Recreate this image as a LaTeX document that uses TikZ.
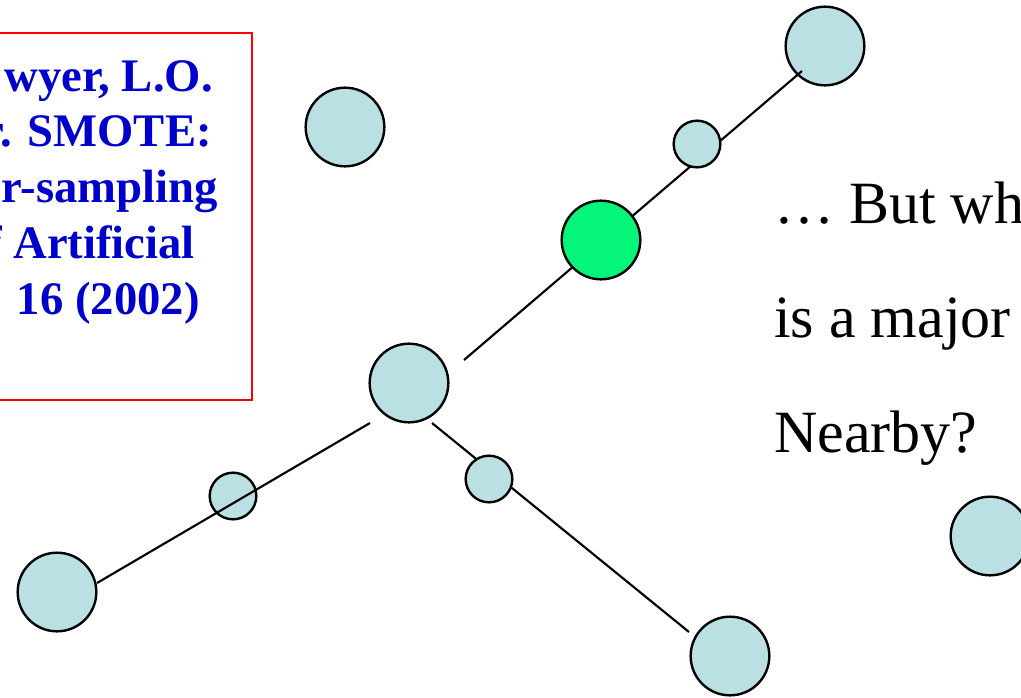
\documentclass[tikz,border=0pt]{standalone}
\usepackage{fontspec}
\setmainfont{Liberation Serif}
\usetikzlibrary{positioning}

\definecolor{pointblue}{RGB}{187,224,227}
\definecolor{synthgreen}{RGB}{5,245,122}
\definecolor{refblue}{RGB}{0,0,204}

\begin{document}
\begin{tikzpicture}[
    x=0.75pt, y=-0.75pt,
    big/.style={circle, draw, line width=1.8pt, fill=pointblue, minimum size=59pt, inner sep=0pt},
    small/.style={big, minimum size=35pt},
    synth/.style={big, fill=synthgreen},
    link/.style={line width=1.6pt},
    ref/.style={font=\fontsize{35}{42}\selectfont\bfseries, text=refblue, anchor=base east, inner sep=0pt},
    say/.style={font=\fontsize{45}{54}\selectfont, anchor=base west, inner sep=0pt}
]
\useasboundingbox (0,0) rectangle (1021,697);
\clip (0,0) rectangle (1021,697);

% Reference box (cut at the left)
\draw[red, line width=1.5pt] (-20,33) rectangle (252,400);
\node[ref] (ref1) at (213,91) {wyer, L.O.};
\node[ref] (ref2) at (212,146) {r. SMOTE:};
\node[ref] (ref3) at (218,202) {r-sampling};
\node[ref] (ref4) at (195,258) {f Artificial};
\node[ref] (ref5) at (200,314) {16 (2002)};

% Question text (cut at the right)
\node[say] (say1) at (774,223) {\dots{} But wh};
\node[say] (say2) at (774,337) {is a major};
\node[say] (say3) at (774,452) {Nearby?};

% Upper branch
\node[big] (neEnd) at (825,46) {};
\coordinate (hubNE) at (464,360);
\coordinate (tipNE) at (802,71);
\draw[link] (hubNE) -- (tipNE);
\node[synth] (synth) at (601,240) {};
\node[small] (nbNE) at (697,144) {};

% Centre point and lone point
\node[big] (hub) at (409,383) {};
\node[big] (lone) at (345,127) {};

% Lower left branch
\node[big] (swEnd) at (57,592) {};
\node[small] (nbSW) at (233,496) {};
\coordinate (hubSW) at (370,423);
\coordinate (tipSW) at (97,583);
\draw[link] (hubSW) -- (tipSW);

% Lower right branch
\coordinate (hubSE) at (432,423);
\coordinate (tipSE) at (689,632);
\draw[link] (hubSE) -- (tipSE);
\node[small] (nbSE) at (489,479) {};
\node[big] (seEnd) at (730,656) {};

% Far point (cut at the right)
\node[big] (far) at (990,536) {};

\end{tikzpicture}
\end{document}
